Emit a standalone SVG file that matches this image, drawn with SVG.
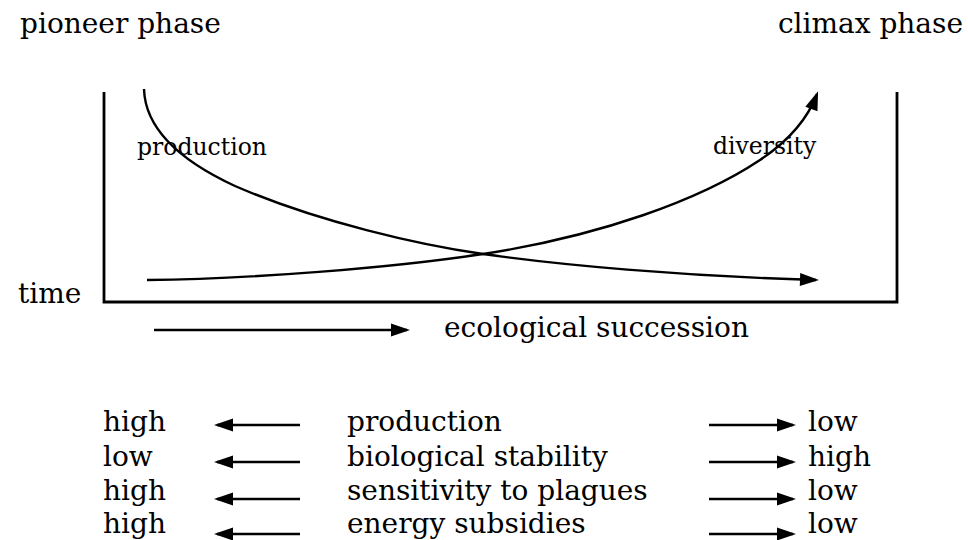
<svg xmlns="http://www.w3.org/2000/svg" width="968" height="540" viewBox="0 0 968 540">
<style>
text{font-family:"DejaVu Serif","Liberation Serif",serif;fill:#000}
.big{font-size:28px}
.lbl{font-size:23.5px}
.ln{fill:none;stroke:#000;stroke-width:2.4}
.box{fill:none;stroke:#000;stroke-width:2.8}
</style>
<defs>
<marker id="ah" markerUnits="userSpaceOnUse" markerWidth="26" markerHeight="18" viewBox="-18 -9 26 18" refX="0" refY="0" orient="auto">
<path d="M3,0 L-16,-6.5 L-16,6.5 Z" fill="#000"/>
</marker>
</defs>
<rect width="968" height="540" fill="#fff"/>
<g id="titles">
<text class="big" x="20" y="33">pioneer phase</text>
<text class="big" x="963" y="33" text-anchor="end">climax phase</text>
</g>
<g id="axes">
<path class="box" d="M104,92 V302 H897 V92"/>
<text class="big" x="18" y="303">time</text>
</g>
<g id="curves">
<path id="production-curve" class="ln" marker-end="url(#ah)" d="M144,89 C145,122 168,155 235,186 C318,222 420,245 483,254 C560,265 680,276 816,280"/>
<path id="diversity-curve" class="ln" marker-end="url(#ah)" d="M147,280 C250,279 390,268 483,254 C600,236 700,200 760,160 C790,140 808,118 817,94"/>
<text class="lbl" x="137" y="155">production</text>
<text class="lbl" x="713" y="154">diversity</text>
</g>
<g id="connectors">
<line class="ln" x1="154" y1="330" x2="407" y2="330" marker-end="url(#ah)"/>
<line class="ln" x1="300" y1="425" x2="217" y2="425" marker-end="url(#ah)"/>
<line class="ln" x1="300" y1="462" x2="217" y2="462" marker-end="url(#ah)"/>
<line class="ln" x1="300" y1="499" x2="217" y2="499" marker-end="url(#ah)"/>
<line class="ln" x1="300" y1="534" x2="217" y2="534" marker-end="url(#ah)"/>
<line class="ln" x1="709" y1="425" x2="793" y2="425" marker-end="url(#ah)"/>
<line class="ln" x1="709" y1="462" x2="793" y2="462" marker-end="url(#ah)"/>
<line class="ln" x1="709" y1="499" x2="793" y2="499" marker-end="url(#ah)"/>
<line class="ln" x1="709" y1="534" x2="793" y2="534" marker-end="url(#ah)"/>
</g>
<g id="succession">
<text class="big" x="444" y="337">ecological succession</text>
</g>
<g id="table">
<text class="big" x="103" y="431">high</text>
<text class="big" x="103" y="466">low</text>
<text class="big" x="103" y="500">high</text>
<text class="big" x="103" y="533">high</text>
<text class="big" x="347" y="431">production</text>
<text class="big" x="347" y="466">biological stability</text>
<text class="big" x="347" y="500">sensitivity to plagues</text>
<text class="big" x="347" y="533">energy subsidies</text>
<text class="big" x="808" y="431">low</text>
<text class="big" x="808" y="466">high</text>
<text class="big" x="808" y="500">low</text>
<text class="big" x="808" y="533">low</text>
</g>
</svg>
